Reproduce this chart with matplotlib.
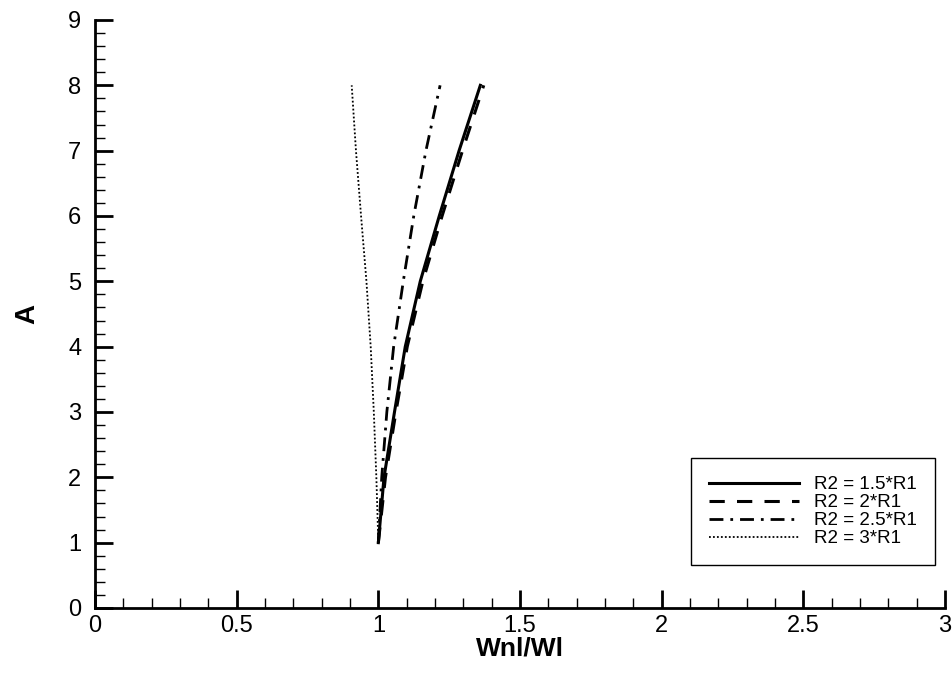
import numpy as np
import matplotlib.pyplot as plt

plt.rcParams["font.family"] = ["Liberation Sans", "DejaVu Sans"]

# amplitude values and frequency ratios for each radius ratio
A = [1, 2, 3, 4, 5, 6, 7, 8]
w_r15 = [1.0, 1.020, 1.057, 1.095, 1.148, 1.215, 1.285, 1.360]
w_r20 = [1.0, 1.025, 1.062, 1.102, 1.157, 1.225, 1.297, 1.372]
w_r25 = [1.0, 1.012, 1.030, 1.054, 1.088, 1.125, 1.168, 1.218]
w_r30 = [1.0, 0.993, 0.984, 0.973, 0.958, 0.939, 0.921, 0.906]

labels = ["R2 = 1.5*R1", "R2 = 2*R1", "R2 = 2.5*R1", "R2 = 3*R1"]

fig = plt.figure(figsize=(9.53, 6.73), dpi=100)
ax = fig.add_axes([0.0997, 0.0966, 0.8919, 0.8737])

ax.plot(w_r15, A, color="black", lw=2.2, ls="-", label=labels[0])
ax.plot(w_r20, A, color="black", lw=2.2, ls=(0, (5, 4)), label=labels[1])
ax.plot(w_r25, A, color="black", lw=2.0, ls=(0, (5, 2.5, 1, 2.5)), label=labels[2])
ax.plot(w_r30, A, color="black", lw=1.3, ls=(0, (1, 1.2)), label=labels[3])

ax.set_xlim(0, 3)
ax.set_ylim(0, 9)
ax.set_xticks(np.arange(0, 3.01, 0.5))
ax.set_xticklabels(["0", "0.5", "1", "1.5", "2", "2.5", "3"])
ax.set_yticks(np.arange(0, 10, 1))
ax.set_xticks(np.arange(0, 3.01, 0.1), minor=True)
ax.set_yticks(np.arange(0, 9.01, 0.2), minor=True)

for side in ["top", "right"]:
    ax.spines[side].set_visible(False)
for side in ["left", "bottom"]:
    ax.spines[side].set_linewidth(2.0)

ax.tick_params(which="major", direction="in", length=13, width=2.0,
               labelsize=17)
ax.tick_params(axis="x", which="major", pad=5)
ax.tick_params(axis="y", which="major", pad=10)
ax.tick_params(which="minor", direction="in", length=7, width=1.0)

ax.set_xlabel("Wnl/Wl", fontsize=19, fontweight="bold", labelpad=0)
ax.set_ylabel("A", fontsize=20, fontweight="bold", labelpad=20)

leg = ax.legend(loc="lower right", bbox_to_anchor=(0.988, 0.073),
                fontsize=13.5, handlelength=4.8, handletextpad=0.8,
                labelspacing=0.05, borderpad=0.95, fancybox=False,
                framealpha=1, edgecolor="black", borderaxespad=0)
leg.get_frame().set_linewidth(1.0)

fig.savefig("out.png", dpi=100)
